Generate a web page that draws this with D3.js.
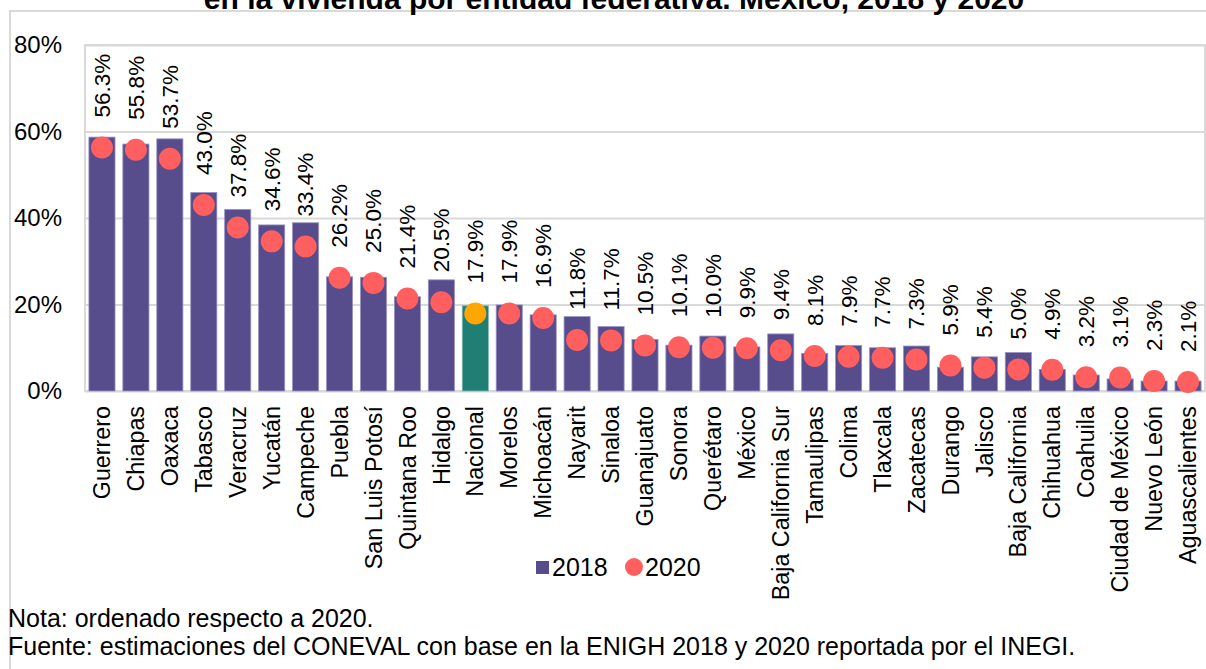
<!DOCTYPE html>
<html>
<head>
<meta charset="utf-8">
<script src="https://cdn.jsdelivr.net/npm/d3@7"></script>
<style>
  html, body { margin: 0; padding: 0; background: #ffffff; }
  svg { display: block; font-family: "Liberation Sans", Arial, sans-serif; }
</style>
</head>
<body>
<svg id="chart" width="1206" height="669"></svg>
<script>
const categories = ["Guerrero","Chiapas","Oaxaca","Tabasco","Veracruz","Yucatán","Campeche","Puebla","San Luis Potosí","Quintana Roo","Hidalgo","Nacional","Morelos","Michoacán","Nayarit","Sinaloa","Guanajuato","Sonora","Querétaro","México","Baja California Sur","Tamaulipas","Colima","Tlaxcala","Zacatecas","Durango","Jalisco","Baja California","Chihuahua","Coahuila","Ciudad de México","Nuevo León","Aguascalientes"];
const values2018 = [58.7,57.1,58.3,45.9,42.0,38.4,38.9,26.4,26.3,21.8,25.7,19.7,19.9,17.6,17.2,14.9,11.9,10.6,12.7,10.2,13.2,8.7,10.5,10.0,10.4,5.5,7.9,8.9,5.0,3.7,2.8,2.3,2.3];
const values2020 = [56.3,55.8,53.7,43.0,37.8,34.6,33.4,26.2,25.0,21.4,20.5,17.9,17.9,16.9,11.8,11.7,10.5,10.1,10.0,9.9,9.4,8.1,7.9,7.7,7.3,5.9,5.4,5.0,4.9,3.2,3.1,2.3,2.1];
const yTicks = [0,20,40,60,80];
const seriesNames = ["2018","2020"];
const highlight = "Nacional";
const titleText = "en la vivienda por entidad federativa. México, 2018 y 2020";
const notes = ["Nota: ordenado respecto a 2020.","Fuente: estimaciones del CONEVAL con base en la ENIGH 2018 y 2020 reportada por el INEGI."];

const colBar = "#574d8c", colBarHi = "#1f7f74", colDot = "#ff5f5f", colDotHi = "#ffa600";
const gridCol = "#d9d9d9";

const svg = d3.select("#chart");
const plot = {left: 85, right: 1205, top: 45, bottom: 391};

// outer border
svg.append("rect").attr("x", 10).attr("y", 11).attr("width", 1220).attr("height", 700)
  .attr("fill", "none").attr("stroke", gridCol).attr("stroke-width", 2);

// title (cut at the top, as in the source image)
svg.append("text").attr("x", 614).attr("y", 9).attr("text-anchor", "middle")
  .attr("font-weight", "bold").attr("font-size", 30).attr("fill", "#000").text(titleText);

const x = d3.scaleBand().domain(categories).range([plot.left, plot.right])
  .paddingInner(0.23).paddingOuter(0.115);
const y = d3.scaleLinear().domain([0, 80]).range([plot.bottom, plot.top]);

// gridlines + y axis
const yAxis = svg.append("g").attr("transform", `translate(${plot.left},0)`)
  .call(d3.axisLeft(y).tickValues(yTicks).tickFormat(d => d + "%")
    .tickSize(-(plot.right - plot.left)).tickPadding(23));
yAxis.select(".domain").remove();
yAxis.selectAll(".tick line").attr("stroke", gridCol).attr("stroke-width", 2);
yAxis.selectAll(".tick text").attr("font-size", 24).attr("fill", "#000")
  .attr("font-family", "Liberation Sans, Arial, sans-serif");

// plot border
svg.append("rect").attr("x", plot.left).attr("y", plot.top)
  .attr("width", plot.right - plot.left).attr("height", plot.bottom - plot.top)
  .attr("fill", "none").attr("stroke", gridCol).attr("stroke-width", 2);

// bars 2018
svg.append("g").selectAll("rect").data(categories).join("rect")
  .attr("x", d => x(d)).attr("width", x.bandwidth())
  .attr("y", (d, i) => y(values2018[i]))
  .attr("height", (d, i) => y(0) - y(values2018[i]))
  .attr("fill", d => d === highlight ? colBarHi : colBar)
  .attr("stroke", d => d === highlight ? "#7fb8b0" : "#9a93c4").attr("stroke-width", 0.8);

// dots 2020
svg.append("g").selectAll("circle").data(categories).join("circle")
  .attr("cx", d => x(d) + x.bandwidth() / 2)
  .attr("cy", (d, i) => y(values2020[i]))
  .attr("r", 11)
  .attr("fill", d => d === highlight ? colDotHi : colDot);

// value labels
svg.append("g").selectAll("text").data(categories).join("text")
  .attr("transform", (d, i) => `translate(${x(d) + x.bandwidth() / 2},${y(values2020[i]) - 30}) rotate(-90)`)
  .attr("dy", "0.35em").attr("text-anchor", "start")
  .attr("font-size", 22.5).attr("fill", "#000")
  .text((d, i) => values2020[i].toFixed(1) + "%");

// category labels
const xAxis = svg.append("g").attr("transform", `translate(0,${plot.bottom})`)
  .call(d3.axisBottom(x).tickSize(0).tickPadding(0));
xAxis.select(".domain").remove();
xAxis.selectAll(".tick text")
  .attr("transform", "translate(0,15) rotate(-90)")
  .attr("y", 0).attr("x", 0).attr("dy", "0.35em")
  .attr("text-anchor", "end")
  .attr("font-size", 23.3).attr("fill", "#000")
  .attr("font-family", "Liberation Sans, Arial, sans-serif");

// legend
const lg = svg.append("g");
lg.append("rect").attr("x", 536).attr("y", 561).attr("width", 13).attr("height", 13).attr("fill", colBar);
lg.append("text").attr("x", 552).attr("y", 576).attr("font-size", 25).attr("fill", "#000").text(seriesNames[0]);
lg.append("circle").attr("cx", 634).attr("cy", 567).attr("r", 9).attr("fill", colDot);
lg.append("text").attr("x", 645).attr("y", 576).attr("font-size", 25).attr("fill", "#000").text(seriesNames[1]);

// notes
svg.append("g").selectAll("text").data(notes).join("text")
  .attr("x", 8).attr("y", (d, i) => 627 + i * 28)
  .attr("font-size", 25).attr("fill", "#000").text(d => d);
</script>
</body>
</html>
